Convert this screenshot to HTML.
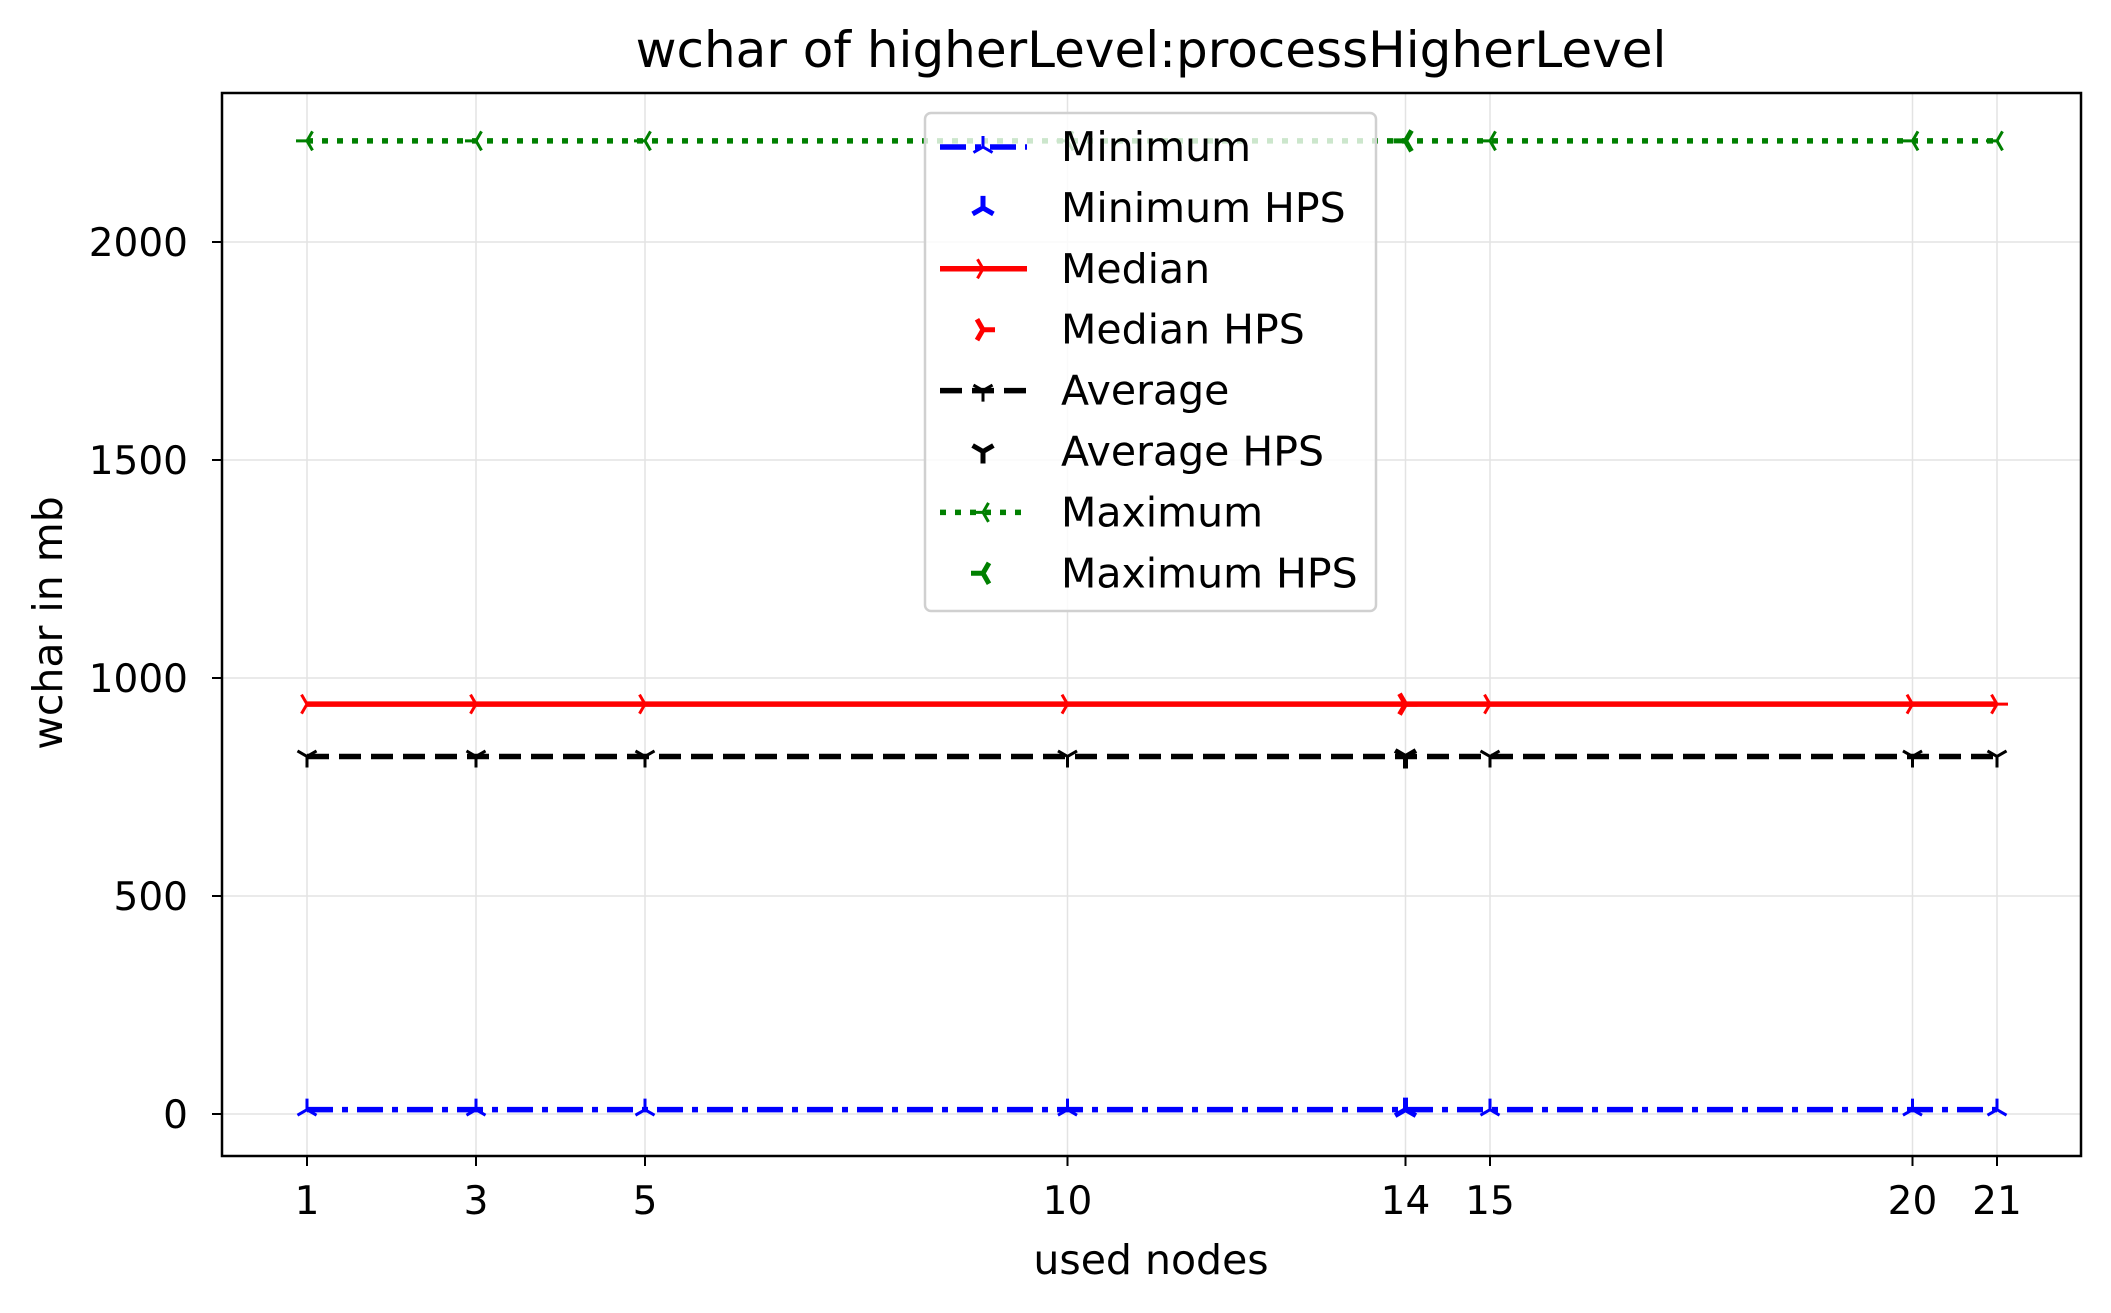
<!DOCTYPE html>
<html><head><meta charset="utf-8"><style>
body{margin:0;background:#fff}
svg{display:block}
text{font-family:"DejaVu Sans","Liberation Sans",sans-serif;fill:#000}
</style></head><body>
<svg id="chart" width="2111" height="1313" viewBox="0 0 2111 1313" xmlns="http://www.w3.org/2000/svg">
<rect width="2111" height="1313" fill="#fff"/>
<text x="1151" y="67" font-size="50" text-anchor="middle">wchar of higherLevel:processHigherLevel</text>
<g id="grid"></g>
<g id="series"></g>
<rect x="222" y="93" width="1859" height="1063" fill="none" stroke="#000" stroke-width="2.5"/>
<g id="axes"></g>
<text x="1151" y="1274" font-size="41" text-anchor="middle">used nodes</text>
<text transform="translate(62,623) rotate(-90)" font-size="41" text-anchor="middle">wchar in mb</text>
<g id="legend"></g>
</svg>
<script>
const xCats=[1,3,5,10,14,15,20,21];
const yTicks=[0,500,1000,1500,2000];
const minVals=[10,10,10,10,10,10,10,10];
const medVals=[940,940,940,940,940,940,940,940];
const avgVals=[820,820,820,820,820,820,820,820];
const maxVals=[2232,2232,2232,2232,2232,2232,2232,2232];
const seriesNames=["Minimum","Median","Average","Maximum"];

const X0=222,X1=2081,Y0=93,Y1=1156;
function xs(v){return 307+(v-1)*84.5;}
function ys(v){return 1114-v*0.436;}
const NS="http://www.w3.org/2000/svg";
function mk(tag,attrs,parent){const e=document.createElementNS(NS,tag);for(const k in attrs)e.setAttribute(k,attrs[k]);parent.appendChild(e);return e;}
const grid=document.getElementById('grid'),axes=document.getElementById('axes'),ser=document.getElementById('series'),leg=document.getElementById('legend');

xCats.forEach(v=>{
  const g=mk('line',{x1:xs(v),x2:xs(v),y1:Y0,y2:Y1,stroke:'#e3e3e3','stroke-width':1.5},grid);
  
  
  const t=mk('line',{x1:xs(v),x2:xs(v),y1:Y1,y2:Y1+10,stroke:'#000','stroke-width':2},axes);
  
  
  const l=mk('text',{x:xs(v),y:Y1+58,'font-size':39,'text-anchor':'middle'},axes);
  l.textContent=v;
  
  
});
yTicks.forEach(v=>{
  const g=mk('line',{x1:X0,x2:X1,y1:ys(v),y2:ys(v),stroke:'#e3e3e3','stroke-width':1.5},grid);
  
  
  const t=mk('line',{x1:X0-10,x2:X0,y1:ys(v),y2:ys(v),stroke:'#000','stroke-width':2},axes);
  
  
  const l=mk('text',{x:X0-34,y:ys(v)+14,'font-size':39,'text-anchor':'end'},axes);
  l.textContent=v;
  
  
});

function tri(cx,cy,dir,color,parent,r){
  r=r||11;
  const angs={down:[90,210,330],up:[270,30,150],right:[0,120,240],left:[180,300,60]}[dir];
  let d='';
  angs.forEach(a=>{const rad=a*Math.PI/180;d+=`M${cx} ${cy}L${cx+r*Math.cos(rad)} ${cy+r*Math.sin(rad)}`;});
  return mk('path',{d:d,stroke:color,'stroke-width':3,fill:'none'},parent);
}
const styles=[
 {vals:minVals,color:'#0000ff',dash:'26 9 6 9',dir:'up'},
 {vals:medVals,color:'#ff0000',dash:'',dir:'right'},
 {vals:avgVals,color:'#000000',dash:'22 10',dir:'down'},
 {vals:maxVals,color:'#008000',dash:'6 9',dir:'left'}
];
styles.forEach((s,i)=>{
  const pts=s.vals.map((v,j)=>xs(xCats[j])+','+ys(v)).join(' ');
  const pl=mk('polyline',{points:pts,fill:'none',stroke:s.color,'stroke-width':5.5,'stroke-dasharray':s.dash},ser);
  
  
  s.vals.forEach((v,j)=>{
    const m=tri(xs(xCats[j]),ys(v),s.dir,s.color,ser);
    
    
  });
  const h=tri(xs(14),ys(s.vals[4]),s.dir,s.color,ser,12);
  h.setAttribute('stroke-width',5);
  
  
});

// legend
const box=mk('rect',{x:925,y:113,width:451,height:498,rx:6,fill:'#fff','fill-opacity':0.8,stroke:'#d0d0d0','stroke-width':2.5},leg);


const labels=["Minimum","Minimum HPS","Median","Median HPS","Average","Average HPS","Maximum","Maximum HPS"];
labels.forEach((lab,k)=>{
  const s=styles[Math.floor(k/2)];
  const y=147+k*60.9;
  const g=mk('g',{},leg);
  
  
  if(k%2===0) mk('line',{x1:940,x2:1027,y1:y,y2:y,stroke:s.color,'stroke-width':5.5,'stroke-dasharray':s.dash},g);
  tri(983,y,s.dir,s.color,g,k%2===0?11:12).setAttribute('stroke-width',k%2===0?3:5);
  const t=mk('text',{x:1061,y:y+14,'font-size':41},g);
  t.textContent=lab;
});
</script>
</body></html>
